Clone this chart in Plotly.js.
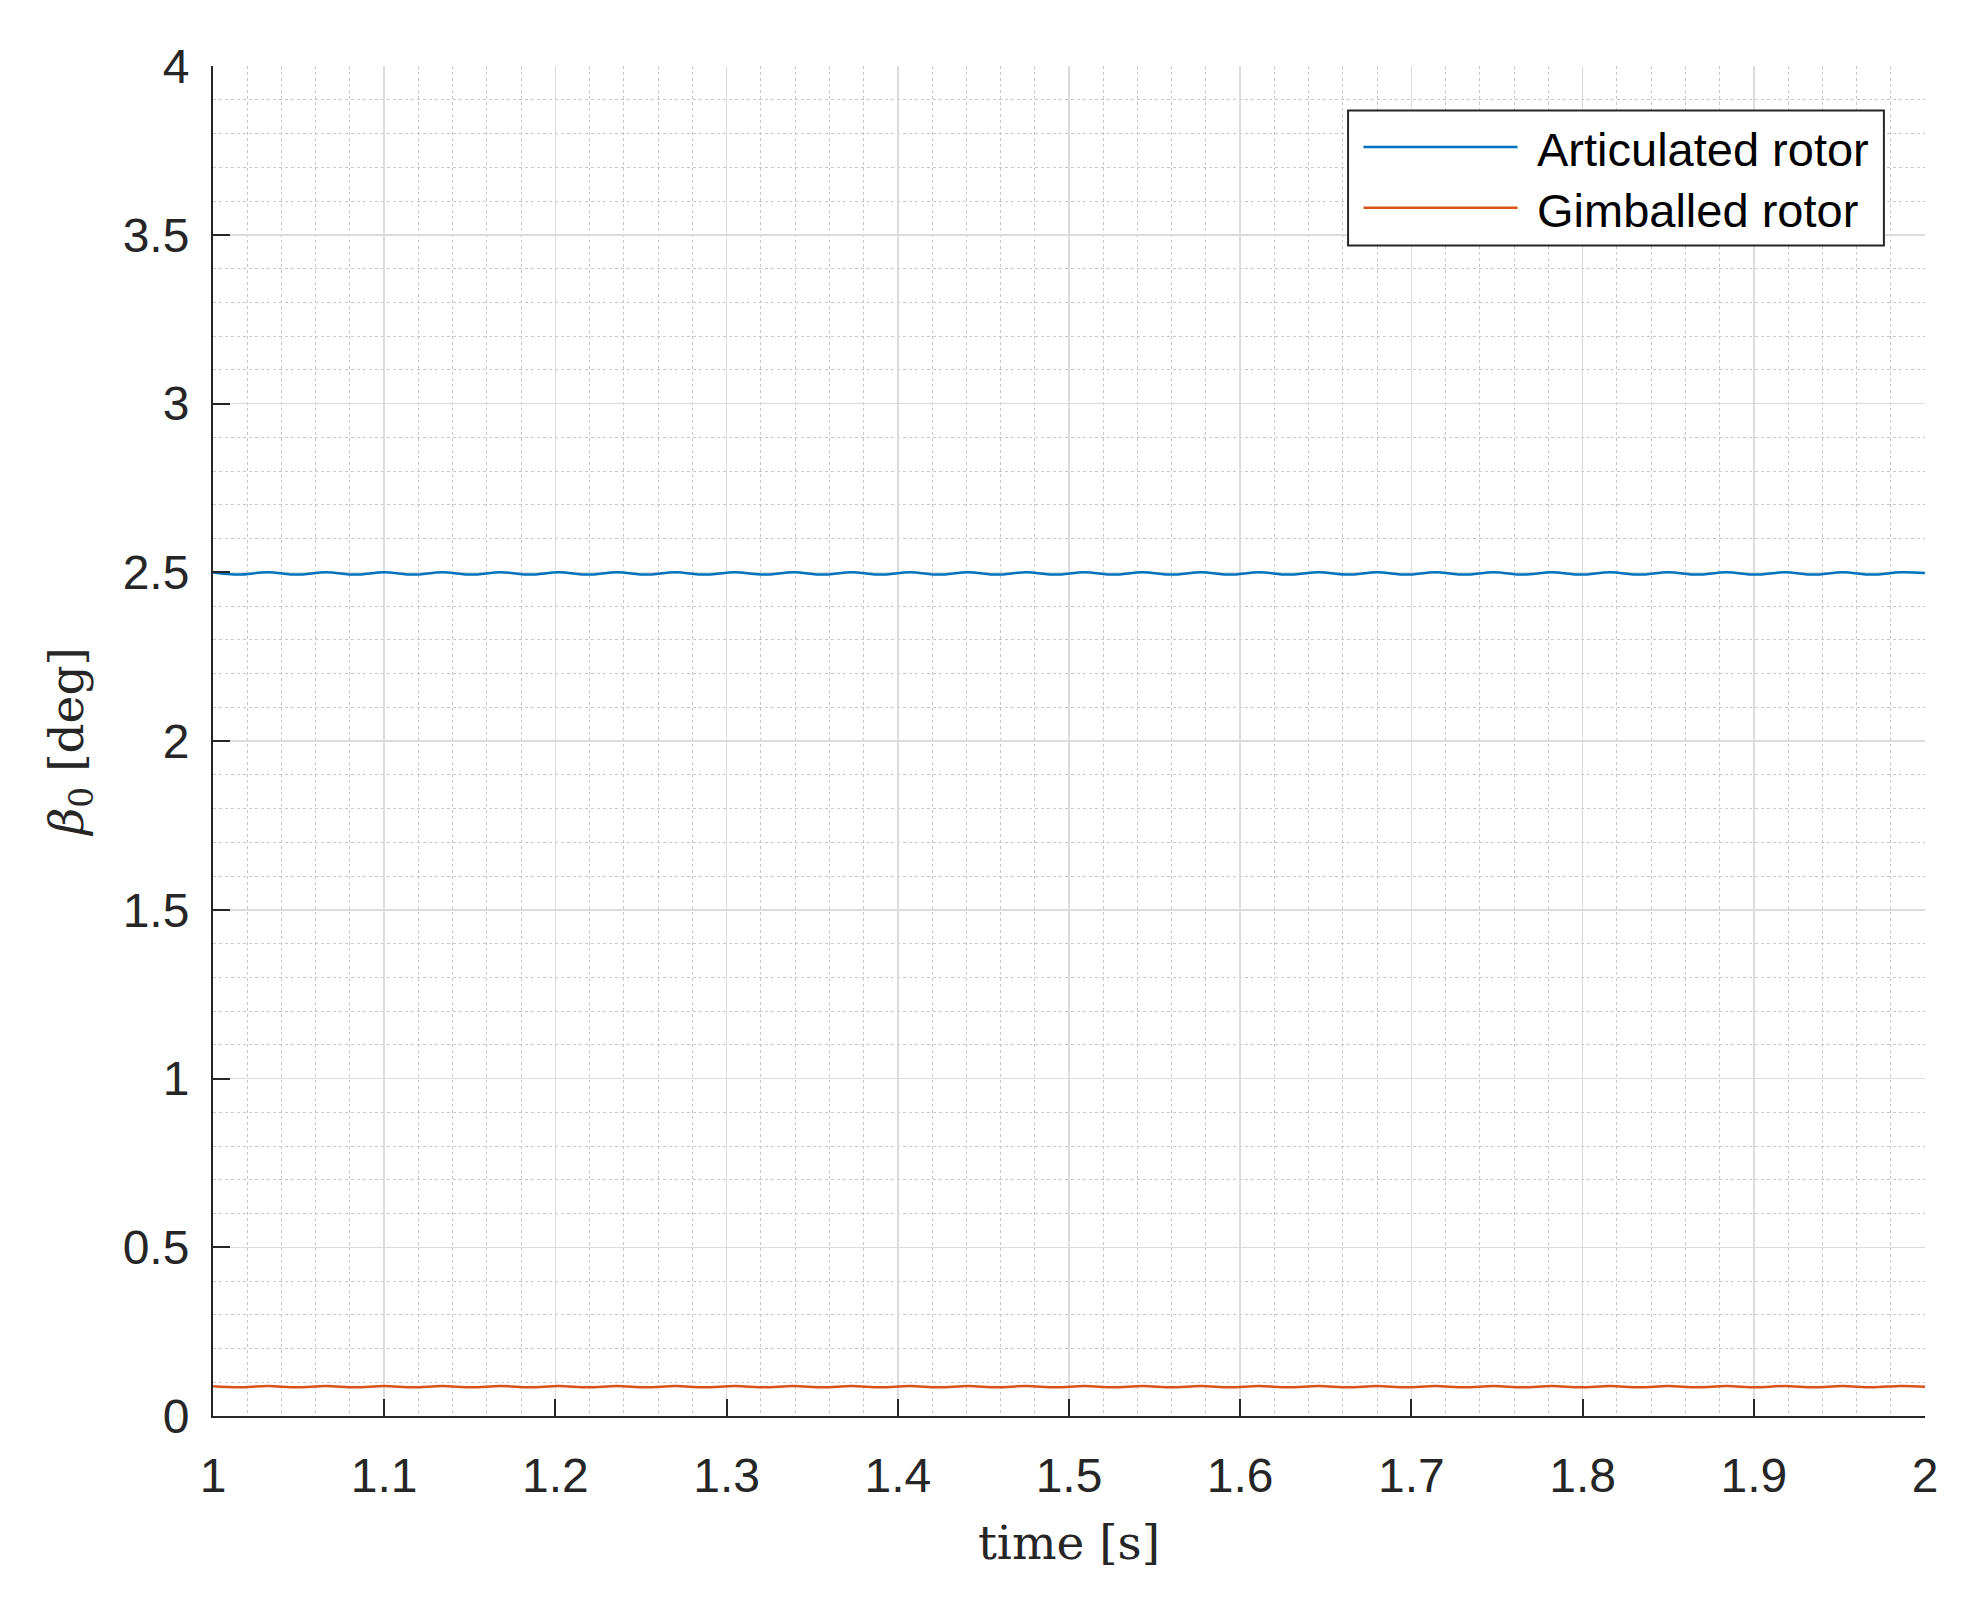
<!DOCTYPE html>
<html>
<head>
<meta charset="utf-8">
<script src="https://cdn.plot.ly/plotly-3.0.1.min.js"></script>
<style>
  html, body { margin: 0; padding: 0; background: #fff; }
  #myGraph { width: 1983px; height: 1603px; }
</style>
</head>
<body>
<div id="myGraph"></div>
<script>
// time samples at the turning points of the ripple
const time = [1.000, 1.015, 1.032, 1.049, 1.066, 1.083, 1.100, 1.117, 1.134, 1.151,
  1.168, 1.185, 1.202, 1.219, 1.236, 1.253, 1.270, 1.287, 1.305, 1.322,
  1.339, 1.356, 1.373, 1.390, 1.407, 1.424, 1.441, 1.458, 1.475, 1.492,
  1.509, 1.526, 1.543, 1.560, 1.577, 1.594, 1.611, 1.628, 1.646, 1.663,
  1.680, 1.697, 1.714, 1.731, 1.748, 1.765, 1.782, 1.799, 1.816, 1.833,
  1.850, 1.867, 1.884, 1.901, 1.918, 1.935, 1.952, 1.969, 1.986, 2.000];

const articulated = [2.499, 2.493, 2.500, 2.493, 2.500, 2.493, 2.500, 2.493, 2.500, 2.493,
  2.500, 2.493, 2.500, 2.493, 2.500, 2.493, 2.500, 2.493, 2.500, 2.493,
  2.500, 2.493, 2.500, 2.493, 2.500, 2.493, 2.500, 2.493, 2.500, 2.493,
  2.500, 2.493, 2.500, 2.493, 2.500, 2.493, 2.500, 2.493, 2.500, 2.493,
  2.500, 2.493, 2.500, 2.493, 2.500, 2.493, 2.500, 2.493, 2.500, 2.493,
  2.500, 2.493, 2.500, 2.493, 2.500, 2.493, 2.500, 2.493, 2.500, 2.498];

const gimballed = [0.088, 0.085, 0.089, 0.085, 0.089, 0.085, 0.089, 0.085, 0.089, 0.085,
  0.089, 0.085, 0.089, 0.085, 0.089, 0.085, 0.089, 0.085, 0.089, 0.085,
  0.089, 0.085, 0.089, 0.085, 0.089, 0.085, 0.089, 0.085, 0.089, 0.085,
  0.089, 0.085, 0.089, 0.085, 0.089, 0.085, 0.089, 0.085, 0.089, 0.085,
  0.089, 0.085, 0.089, 0.085, 0.089, 0.085, 0.089, 0.085, 0.089, 0.085,
  0.089, 0.085, 0.089, 0.085, 0.089, 0.085, 0.089, 0.085, 0.089, 0.087];

const seriesNames = ["Articulated rotor", "Gimballed rotor"];
const seriesColors = ["#0072BD", "#D95319"];

const tickFont = { family: "Liberation Sans, Arial, sans-serif", size: 48, color: "#262626" };
const titleFont = { family: "DejaVu Serif, Liberation Serif, serif", size: 47, color: "#262626" };
const legendFont = { family: "Liberation Sans, Arial, sans-serif", size: 47, color: "#000000" };

const articulatedTrace = {
  x: time,
  y: articulated,
  name: seriesNames[0],
  type: "scatter",
  mode: "lines",
  line: { color: seriesColors[0], width: 2.5, shape: "spline" }
};
const gimballedTrace = {
  x: time,
  y: gimballed,
  name: seriesNames[1],
  type: "scatter",
  mode: "lines",
  line: { color: seriesColors[1], width: 2.5, shape: "spline" }
};

const data = [articulatedTrace, gimballedTrace];

// MATLAB-style legend box with long sample lines, drawn in paper coords
const legendRows = [0.940, 0.895];
const shapes = [{
  type: "rect", xref: "paper", yref: "paper",
  x0: 0.663, x1: 0.976, y0: 0.867, y1: 0.967,
  line: { color: "#262626", width: 2 }, fillcolor: "#ffffff", layer: "above"
}];
const annotations = [];
seriesNames.forEach((name, i) => {
  shapes.push({
    type: "line", xref: "paper", yref: "paper",
    x0: 0.672, x1: 0.762, y0: legendRows[i], y1: legendRows[i],
    line: { color: seriesColors[i], width: 2.5 }, layer: "above"
  });
  annotations.push({
    xref: "paper", yref: "paper", x: 0.772, y: legendRows[i] - 0.002,
    xanchor: "left", yanchor: "middle", showarrow: false,
    text: name, font: legendFont
  });
});

const layout = {
  width: 1983,
  height: 1603,
  margin: { l: 213, r: 58, t: 66, b: 187 },
  paper_bgcolor: "#ffffff",
  plot_bgcolor: "#ffffff",
  showlegend: false,
  shapes: shapes,
  annotations: annotations,
  xaxis: {
    range: [1, 2],
    dtick: 0.1,
    tick0: 1,
    showline: true,
    linecolor: "#262626",
    linewidth: 2,
    ticks: "inside",
    ticklen: 17,
    tickwidth: 2,
    tickcolor: "#262626",
    tickfont: tickFont,
    ticklabelstandoff: 16,
    showgrid: true,
    gridcolor: "#dcdcdc",
    gridwidth: 1.5,
    zeroline: false,
    minor: { dtick: 0.02, showgrid: true, gridcolor: "#c8c8c8", griddash: "dot", gridwidth: 1, ticks: "" },
    title: { text: "time [s]", font: titleFont, standoff: 26 }
  },
  yaxis: {
    range: [0, 4],
    dtick: 0.5,
    tick0: 0,
    showline: true,
    linecolor: "#262626",
    linewidth: 2,
    ticks: "inside",
    ticklen: 17,
    tickwidth: 2,
    tickcolor: "#262626",
    tickfont: tickFont,
    ticklabelstandoff: 12,
    showgrid: true,
    gridcolor: "#dcdcdc",
    gridwidth: 1.5,
    zeroline: false,
    minor: { dtick: 0.1, showgrid: true, gridcolor: "#c8c8c8", griddash: "dot", gridwidth: 1, ticks: "" },
    title: { text: "<i>β</i><sub>0</sub> [deg]", font: titleFont, standoff: 24 }
  }
};

Plotly.newPlot("myGraph", data, layout, { staticPlot: true });
</script>
</body>
</html>
